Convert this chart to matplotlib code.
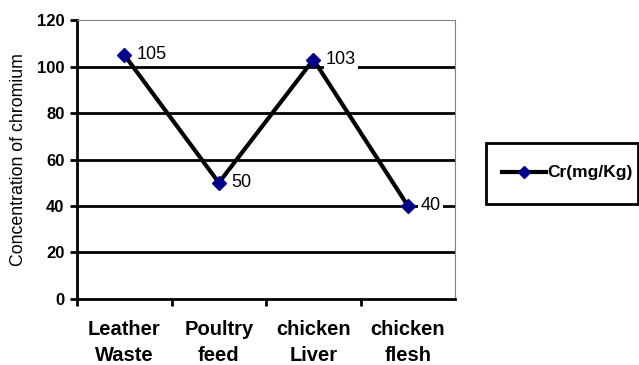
import matplotlib.pyplot as plt
from matplotlib.patches import Rectangle

plt.rcParams['font.family'] = ['Liberation Sans', 'DejaVu Sans']

categories = ["Leather\nWaste", "Poultry\nfeed", "chicken\nLiver", "chicken\nflesh"]
cr_values = [105, 50, 103, 40]
y_ticks = [0, 20, 40, 60, 80, 100, 120]

fig = plt.figure(figsize=(6.39, 3.65), dpi=100)
ax = fig.add_axes([0.1205, 0.181, 0.592, 0.764])

x = list(range(len(categories)))
ax.set_xlim(-0.5, len(categories) - 0.5)
ax.set_ylim(0, 120)

for yv in y_ticks[1:-1]:
    ax.axhline(yv, color='black', lw=2, zorder=1)

ax.plot(x, cr_values, color='black', lw=3, marker='D', markersize=7.5,
        markerfacecolor='#00008B', markeredgecolor='#00008B', zorder=3,
        label='Cr(mg/Kg)')

for xi, v in zip(x, cr_values):
    ax.annotate(str(v), (xi, v), xytext=(9, 0), textcoords='offset points',
                ha='left', va='center', fontsize=13, zorder=4,
                bbox=dict(facecolor='white', edgecolor='none', pad=1.5))

ax.set_yticks(y_ticks)
ax.set_yticklabels([str(t) for t in y_ticks], fontsize=12, fontweight='bold')
ax.set_xticks([i + 0.5 for i in x[:-1]] + [-0.5])
ax.set_xticklabels([])
ax.tick_params(axis='x', length=5, width=2)
ax.tick_params(axis='y', length=5, width=2, pad=4)
for xi, lab in zip(x, categories):
    ax.text(xi, -9, lab, ha='center', va='top', fontsize=14.5, fontweight='bold',
            linespacing=1.45, transform=ax.transData)

ax.set_ylabel('Concentration of chromium', fontsize=12.8, labelpad=7)

ax.spines['left'].set_linewidth(2)
ax.spines['bottom'].set_linewidth(2)
ax.spines['top'].set_color('#808080')
ax.spines['right'].set_color('#808080')

# legend box at the right edge
fig.patches.append(Rectangle((486 / 639, 1 - 204 / 365), 152 / 639, 61 / 365,
                             transform=fig.transFigure, facecolor='white',
                             edgecolor='black', lw=2))
ly = 1 - 172 / 365
fig.lines.append(plt.Line2D([502 / 639, 546 / 639], [ly, ly], transform=fig.transFigure,
                            color='black', lw=3))
fig.lines.append(plt.Line2D([524 / 639], [ly], transform=fig.transFigure, marker='D',
                            markersize=6, color='#00008B'))
fig.text(547 / 639, ly, 'Cr(mg/Kg)', fontsize=12.5, fontweight='bold', va='center', ha='left')

fig.savefig('out.png', dpi=100)
